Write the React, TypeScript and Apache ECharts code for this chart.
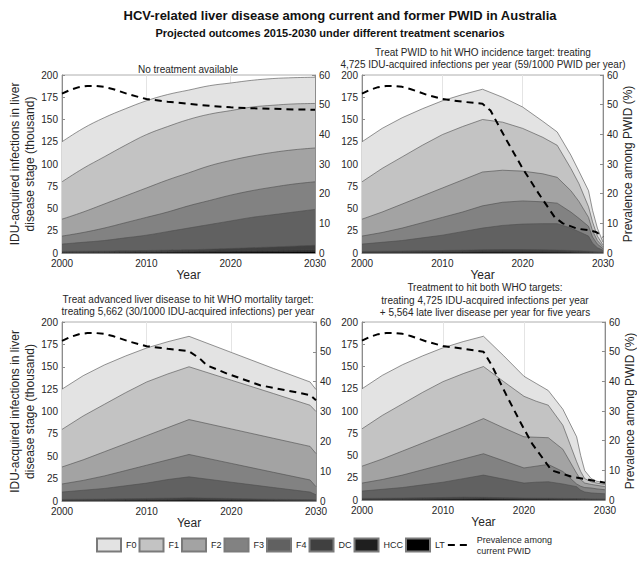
import React, { useEffect, useRef } from "react";
import * as echarts from "echarts";

// ---------------- data ----------------
// Each stage array holds the stage's upper edge in the stacked picture (thousand).
const stageNames = ["F0", "F1", "F2", "F3", "F4", "DC", "HCC", "LT"];
const prevName = "Prevalence among current PWID";

// Shared history 2000-2012.5
const histYears = [2000, 2002.5, 2005, 2007.5, 2010, 2012.5];
const histF0 = [125, 140, 152, 162, 171, 178];
const histF1 = [80, 95, 108, 121, 133, 142];
const histF2 = [38, 46, 55, 64, 73, 82];
const histF3 = [19, 23, 28, 34, 40, 46];
const histF4 = [10, 12, 14, 17, 20, 24];
const histDC = [1.8, 2.0, 2.2, 2.5, 2.8, 3.2];
const histHCC = [1.0, 1.1, 1.2, 1.4, 1.6, 1.8];
const histLT = [0.5, 0.55, 0.6, 0.7, 0.8, 0.9];

const histPrevYears = [2000, 2001, 2002, 2003, 2004, 2005, 2006, 2008, 2010, 2012.5];
const histPrev = [53.7, 55.0, 55.9, 56.3, 56.3, 56.0, 55.3, 53.4, 51.9, 51.0];

// Panel 1: no treatment
const noTxYears = [2015, 2017.5, 2020, 2022.5, 2025, 2027.5, 2030];
const noTxF0 = [183, 188, 191, 194, 196, 197, 197.5];
const noTxF1 = [150, 156, 160, 164, 166, 167.5, 168];
const noTxF2 = [90, 98, 104, 109, 113, 116, 118];
const noTxF3 = [53, 59, 65, 70, 74, 77.5, 80];
const noTxF4 = [28, 32, 36, 40, 43, 46, 49];
const noTxDC = [3.6, 4.3, 5.1, 5.9, 6.8, 7.7, 8.6];
const noTxHCC = [2.0, 2.2, 2.4, 2.6, 2.8, 3.0, 3.2];
const noTxLT = [1.0, 1.1, 1.2, 1.3, 1.4, 1.5, 1.6];
const noTxPrevYears = [2015, 2017.5, 2020, 2022.5, 2025, 2027.5, 2030];
const noTxPrev = [50.3, 49.6, 49.1, 48.8, 48.6, 48.4, 48.3];

// Panel 2: incidence target
const incYears = [2015, 2017.5, 2020, 2022.5, 2024.3, 2026, 2027, 2028.2, 2028.7, 2029.3, 2030];
const incF0 = [184, 175, 164, 148, 136, 110, 92, 70, 48, 28, 12];
const incF1 = [150, 147, 140, 130, 121, 95, 78, 52, 35, 19, 9];
const incF2 = [91, 93, 92, 89, 85, 70, 58, 40, 25, 14, 7];
const incF3 = [53, 57, 58.5, 57.5, 56, 46, 39, 30, 18, 10, 5];
const incF4 = [28, 31, 32.5, 33, 33, 28, 24, 19, 11, 6, 3];
const incDC = [3.6, 3.8, 3.8, 3.6, 3.3, 2.8, 2.4, 2.0, 1.5, 1.2, 1.0];
const incHCC = [2.0, 2.1, 2.1, 2.0, 1.9, 1.6, 1.4, 1.2, 0.9, 0.7, 0.6];
const incLT = [1.0, 1.0, 1.0, 1.0, 0.9, 0.8, 0.7, 0.6, 0.5, 0.4, 0.3];
const incPrevYears = [2015, 2016, 2018, 2020, 2022, 2024, 2025, 2026.8, 2028.4, 2029.2, 2030];
const incPrev = [50.3, 48.0, 38.0, 28.5, 20.0, 12.0, 10.0, 8.2, 7.6, 7.0, 5.4];

// Panel 3: mortality target
const morYears = [2015, 2020, 2025, 2029.3, 2030];
const morF0 = [184, 166, 148, 133, 124.5];
const morF1 = [150, 135, 120, 107, 100];
const morF2 = [91, 80.5, 70, 61, 53];
const morF3 = [52, 42, 32, 23.5, 16];
const morF4 = [27, 21, 15, 10, 7];
const morDC = [3.5, 2.8, 2.0, 1.5, 1.2];
const morHCC = [2.0, 1.6, 1.2, 0.9, 0.8];
const morLT = [1.0, 0.9, 0.7, 0.6, 0.5];
const morPrevYears = [2015, 2016.3, 2017.1, 2019.5, 2023.4, 2028.1, 2029.3, 2030];
const morPrev = [50.2, 47.7, 45.5, 42.7, 38.8, 36.2, 35.5, 33.8];

// Panel 4: both targets
const bothYears = [2015, 2017.5, 2020, 2021.5, 2023, 2024.8, 2026.5, 2027, 2027.5, 2028.3, 2029, 2030];
const bothF0 = [184, 162, 139, 131, 123, 102, 71, 50, 33, 24, 21, 19.5];
const bothF1 = [150, 133, 116.5, 111, 106.5, 84, 43, 32, 24, 20.5, 19, 17.5];
const bothF2 = [91.5, 81, 71, 70.5, 70, 57, 30, 23, 19, 17.5, 16.5, 15];
const bothF3 = [52, 44, 36, 38, 40, 32, 18, 15.5, 14, 13.5, 12.5, 11.5];
const bothF4 = [28, 23.5, 19, 20, 20.5, 18, 15, 11, 9, 8, 7.5, 7];
const bothDC = [3.0, 2.6, 2.2, 2.1, 2.0, 1.8, 1.6, 1.4, 1.3, 1.2, 1.2, 1.1];
const bothHCC = [2.0, 1.7, 1.4, 1.4, 1.3, 1.2, 1.1, 1.0, 0.9, 0.9, 0.8, 0.8];
const bothLT = [1.0, 0.9, 0.8, 0.8, 0.8, 0.7, 0.7, 0.6, 0.6, 0.5, 0.5, 0.5];
const bothPrevYears = [2015, 2016, 2017.8, 2019.5, 2021, 2023.4, 2025.8, 2028, 2030];
const bothPrev = [50.0, 45.5, 35.5, 26.5, 19.0, 10.0, 7.9, 6.8, 5.8];

const panelTitles = [
  "No treatment available",
  "Treat PWID to hit WHO incidence target: treating\n4,725 IDU-acquired infections per year (59/1000 PWID per year)",
  "Treat advanced liver disease to hit WHO mortality target:\ntreating 5,662 (30/1000 IDU-acquired infections) per year",
  "Treatment to hit both WHO targets:\ntreating 4,725 IDU-acquired infections per year\n+ 5,564 late liver disease per year for five years",
];

const xTicks = { min: 2000, max: 2030, interval: 10 };
const leftTicks = { min: 0, max: 200, interval: 25 };
const rightTicks = { min: 0, max: 60, interval: 10 };

// ---------------- styles / layout ----------------
const stageColors = ["#e3e3e3", "#c3c3c3", "#a3a3a3", "#828282", "#616161", "#404040", "#1f1f1f", "#000000"];
const FONT = '"Liberation Sans", Arial, Helvetica, sans-serif';
const grids = [
  { left: 62, top: 75, width: 253, height: 178 },
  { left: 362, top: 75, width: 241, height: 178 },
  { left: 62, top: 322, width: 254, height: 179 },
  { left: 362, top: 322, width: 250, height: 178 },
];
const titlePos = [
  { left: 188, top: 63 },
  { left: 483, top: 46 },
  { left: 188, top: 293 },
  { left: 485, top: 281.5 },
];

const panels = [
  { years: noTxYears, tops: [noTxF0, noTxF1, noTxF2, noTxF3, noTxF4, noTxDC, noTxHCC, noTxLT], prevYears: noTxPrevYears, prev: noTxPrev, smooth: 0.4 },
  { years: incYears, tops: [incF0, incF1, incF2, incF3, incF4, incDC, incHCC, incLT], prevYears: incPrevYears, prev: incPrev, smooth: false },
  { years: morYears, tops: [morF0, morF1, morF2, morF3, morF4, morDC, morHCC, morLT], prevYears: morPrevYears, prev: morPrev, smooth: false },
  { years: bothYears, tops: [bothF0, bothF1, bothF2, bothF3, bothF4, bothDC, bothHCC, bothLT], prevYears: bothPrevYears, prev: bothPrev, smooth: false },
];
const histTops = [histF0, histF1, histF2, histF3, histF4, histDC, histHCC, histLT];

function buildOption() {
  const series: any[] = [];
  const xAxis: any[] = [];
  const yAxis: any[] = [];
  const axisLineStyle = { color: "#8c8c8c", width: 1 };
  const labelStyle = { color: "#262626", fontSize: 10, fontFamily: FONT };

  panels.forEach((p, i) => {
    const years = histYears.concat(p.years);
    // Draw from the outermost stage (F0) inwards; each area fills down to 0 and the
    // next, lower stage is painted over it, giving the stacked-band picture.
    stageNames.forEach((name, k) => {
      const tops = histTops[k].concat(p.tops[k]);
      series.push({
        name,
        type: "line",
        xAxisIndex: i,
        yAxisIndex: 2 * i,
        symbol: "none",
        smooth: p.smooth,
        color: stageColors[k],
        itemStyle: { color: stageColors[k], borderColor: "#7a7a7a", borderWidth: 0.8 },
        lineStyle: { width: 0.6, color: "#4d4d4d" },
        areaStyle: { color: stageColors[k], opacity: 1, origin: "start" },
        data: years.map((y, j) => [y, tops[j]]),
        z: 2,
      });
    });
    const py = histPrevYears.concat(p.prevYears);
    const pv = histPrev.concat(p.prev);
    series.push({
      name: prevName,
      type: "line",
      xAxisIndex: i,
      yAxisIndex: 2 * i + 1,
      symbol: "none",
      color: "#000",
      lineStyle: { color: "#000", width: 2, type: [7, 5] },
      data: py.map((y, j) => [y, pv[j]]),
      z: 5,
    });

    xAxis.push({
      type: "value",
      gridIndex: i,
      ...xTicks,
      name: "Year",
      nameLocation: "middle",
      nameGap: 4,
      nameTextStyle: { color: "#262626", fontSize: 12, fontFamily: FONT },
      axisLine: { lineStyle: axisLineStyle },
      axisTick: { show: true, inside: true, length: 3, lineStyle: axisLineStyle },
      axisLabel: { ...labelStyle, margin: 5, formatter: (v: number) => String(v) },
      splitLine: { show: true, lineStyle: { color: "#e4e4e4", width: 1 } },
    });
    yAxis.push({
      type: "value",
      gridIndex: i,
      position: "left",
      ...leftTicks,
      name: i % 2 === 0 ? "IDU-acquired infections in liver\ndisease stage (thousand)" : "",
      nameLocation: "middle",
      nameGap: 16,
      nameTextStyle: { color: "#262626", fontSize: 12, lineHeight: 15, fontFamily: FONT },
      axisLine: { show: true, lineStyle: axisLineStyle },
      axisTick: { show: true, inside: true, length: 3, lineStyle: axisLineStyle },
      axisLabel: { ...labelStyle, margin: 4 },
      splitLine: { show: false },
    });
    yAxis.push({
      type: "value",
      gridIndex: i,
      position: "right",
      ...rightTicks,
      name: i % 2 === 1 ? "Prevalence among PWID (%)" : "",
      nameLocation: "middle",
      nameGap: 18,
      nameTextStyle: { color: "#262626", fontSize: 12, fontFamily: FONT },
      axisLine: { show: true, lineStyle: axisLineStyle },
      axisTick: { show: true, inside: true, length: 3, lineStyle: axisLineStyle },
      axisLabel: { ...labelStyle, margin: 4 },
      splitLine: { show: false },
    });
  });

  const titles: any[] = [
    {
      text: "HCV-related liver disease among current and former PWID in Australia",
      left: 340,
      top: 9,
      textAlign: "center",
      padding: 0,
      textStyle: { fontSize: 13, fontWeight: "bold", color: "#111", fontFamily: FONT },
    },
    {
      text: "Projected outcomes 2015-2030 under different treatment scenarios",
      left: 330,
      top: 27,
      textAlign: "center",
      padding: 0,
      textStyle: { fontSize: 11, fontWeight: "bold", color: "#111", fontFamily: FONT },
    },
  ];
  panelTitles.forEach((t, i) => {
    titles.push({
      text: t,
      left: titlePos[i].left,
      top: titlePos[i].top,
      textAlign: "center",
      padding: 0,
      textStyle: { fontSize: 10, fontWeight: "normal", color: "#262626", lineHeight: 12.5, fontFamily: FONT },
    });
  });

  return {
    animation: false,
    backgroundColor: "#ffffff",
    title: titles,
    grid: grids.map((g) => ({ ...g, show: true, borderColor: "#9a9a9a", borderWidth: 0.8, backgroundColor: "transparent" })),
    xAxis,
    yAxis,
    legend: {
      left: 96,
      top: 534,
      itemWidth: 24,
      itemHeight: 13,
      itemGap: 2,
      padding: 0,
      textStyle: { fontSize: 9, color: "#262626", lineHeight: 11, fontFamily: FONT },
      formatter: (n: string) => (n === prevName ? "Prevalence among\ncurrent PWID" : n),
      data: [
        ...stageNames.map((n) => ({ name: n, icon: "rect" })),
        { name: prevName, itemStyle: { color: "rgba(0,0,0,0)", borderWidth: 0 } },
      ],
    },
    series,
  };
}

export default function App() {
  const ref = useRef<HTMLDivElement>(null);
  useEffect(() => {
    if (!ref.current) return;
    const chart = echarts.init(ref.current, undefined, { renderer: "svg" });
    chart.setOption(buildOption() as any);
    return () => chart.dispose();
  }, []);
  return (
    <div
      ref={ref}
      style={{ position: "fixed", left: 0, top: 0, width: 637, height: 563, background: "#fff" }}
    />
  );
}
